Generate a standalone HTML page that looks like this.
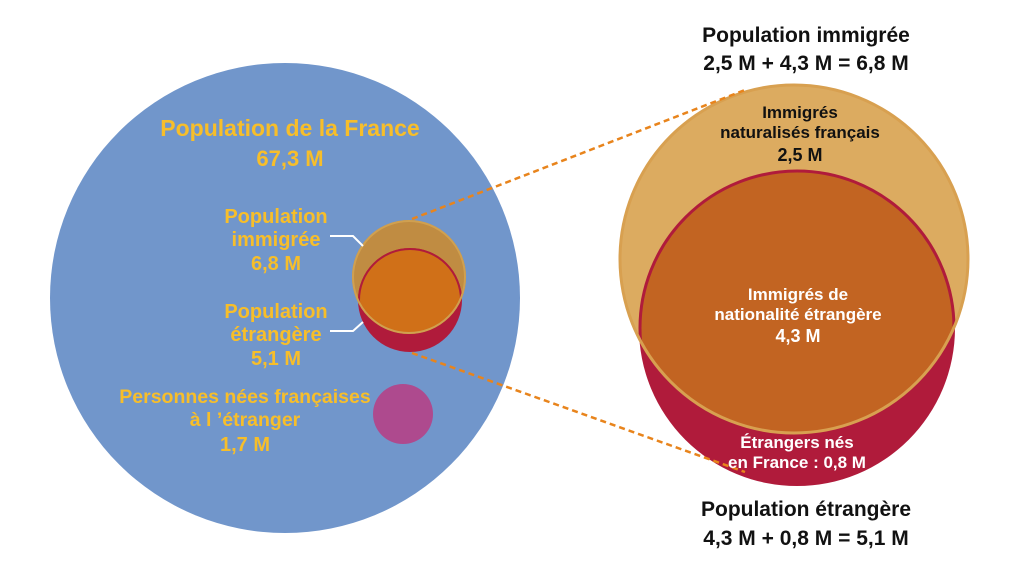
<!DOCTYPE html>
<html><head><meta charset="utf-8"><style>
html,body{margin:0;padding:0;background:#fff}
svg{display:block}
text{font-family:"Liberation Sans",sans-serif;font-weight:bold;text-anchor:middle}
.y{fill:#f7be2a;font-size:20px}
</style></head><body>
<svg width="1024" height="585" viewBox="0 0 1024 585">
<defs>
<clipPath id="cs"><circle cx="409" cy="277" r="57"/></clipPath>
<clipPath id="cb"><circle cx="794" cy="259" r="175"/></clipPath>
</defs>
<circle cx="285" cy="298" r="235" fill="#7196cb"/>
<circle cx="409" cy="277" r="57" fill="#c08c42"/>
<circle cx="410" cy="300" r="52" fill="#b01b3b"/>
<circle cx="410" cy="300" r="52" fill="#d07018" clip-path="url(#cs)"/>
<circle cx="410" cy="300" r="51" fill="none" stroke="#b01b3b" stroke-width="2" clip-path="url(#cs)"/>
<circle cx="409" cy="277" r="56" fill="none" stroke="#d0a050" stroke-width="2"/>
<circle cx="403" cy="414" r="30" fill="#ae4a8e"/>
<polyline points="330,236 353,236 363,246" fill="none" stroke="#fff" stroke-width="2"/>
<polyline points="330,331 353,331 363,322" fill="none" stroke="#fff" stroke-width="2"/>
<circle cx="794" cy="259" r="175" fill="#dcab60"/>
<circle cx="797" cy="328" r="158" fill="#b01b3b"/>
<circle cx="797" cy="328" r="158" fill="#c26422" clip-path="url(#cb)"/>
<circle cx="797" cy="328" r="157" fill="none" stroke="#b01b3b" stroke-width="3" clip-path="url(#cb)"/>
<circle cx="794" cy="259" r="174" fill="none" stroke="#d8a050" stroke-width="3"/>
<line x1="412" y1="219" x2="745" y2="90" stroke="#e8841c" stroke-width="2.5" stroke-dasharray="6,4"/>
<line x1="412" y1="353" x2="745" y2="472" stroke="#e8841c" stroke-width="2.5" stroke-dasharray="6,4"/>
<text class="y" x="290" y="136" style="font-size:23px">Population de la France</text>
<text class="y" x="290" y="166" style="font-size:22px">67,3 M</text>
<text class="y" x="276" y="223">Population</text>
<text class="y" x="276" y="246">immigrée</text>
<text class="y" x="276" y="270">6,8 M</text>
<text class="y" x="276" y="318">Population</text>
<text class="y" x="276" y="341">étrangère</text>
<text class="y" x="276" y="365">5,1 M</text>
<text class="y" x="245" y="403" style="font-size:19.5px">Personnes nées françaises</text>
<text class="y" x="245" y="426" style="font-size:19.5px">à l ’étranger</text>
<text class="y" x="245" y="451">1,7 M</text>
<text x="806" y="42" style="font-size:21px" fill="#111">Population immigrée</text>
<text x="806" y="70" style="font-size:21px" fill="#111">2,5 M + 4,3 M = 6,8 M</text>
<text x="800" y="118" style="font-size:17px" fill="#111">Immigrés</text>
<text x="800" y="138" style="font-size:17px" fill="#111">naturalisés français</text>
<text x="800" y="161" style="font-size:18px" fill="#111">2,5 M</text>
<text x="798" y="300" style="font-size:17px" fill="#fff">Immigrés de</text>
<text x="798" y="320" style="font-size:17px" fill="#fff">nationalité étrangère</text>
<text x="798" y="342" style="font-size:18px" fill="#fff">4,3 M</text>
<text x="797" y="448" style="font-size:17px" fill="#fff">Étrangers nés</text>
<text x="797" y="468" style="font-size:17px" fill="#fff">en France : 0,8 M</text>
<text x="806" y="516" style="font-size:21px" fill="#111">Population étrangère</text>
<text x="806" y="545" style="font-size:21px" fill="#111">4,3 M + 0,8 M = 5,1 M</text>
</svg>
</body></html>
